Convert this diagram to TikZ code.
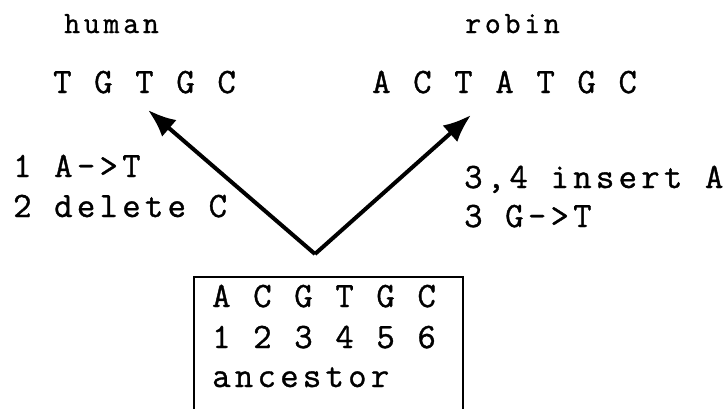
\documentclass[tikz,border=0pt]{standalone}
\usepackage{fontspec}
\setmonofont{Latin Modern Mono}[LetterSpace=12,FakeBold=1]
\usetikzlibrary{arrows.meta,positioning}
\tikzstyle{seq} = [inner sep=0pt, anchor=base west, font=\ttfamily\fontsize{35.7}{40}\selectfont]
\tikzstyle{taxon} = [inner sep=0pt, anchor=base west, font=\ttfamily\fontsize{31}{34}\selectfont]
\tikzstyle{ancbox} = [draw, line width=1.5pt, rectangle, anchor=north west, minimum width=269pt, minimum height=170pt]
\tikzstyle{branch} = [-{Latex[length=28pt,width=22pt]}, line width=4pt]

\begin{document}
\begin{tikzpicture}[x=1pt,y=-1pt]
    \useasboundingbox (0,0) rectangle (723,408);
    % leaves
    \node [taxon] (human) at (64,33) {human};
    \node [taxon] (robin) at (465,33) {robin};
    \node [seq] (hseq) at (53,93) {T G T G C};
    \node [seq] (rseq) at (372,93) {A C T A T G C};
    % changes along each branch
    \node [seq] (h1) at (13,177) {1 A->T};
    \node [seq] (h2) at (13,217) {2 delete C};
    \node [seq] (r1) at (464,188) {3,4 insert A};
    \node [seq] (r2) at (464,227) {3 G->T};
    % root
    \node [ancbox] (anc) at (193,276) {};
    \node [seq] (a1) at (212,307) {A C G T G C};
    \node [seq] (a2) at (212,348) {1 2 3 4 5 6};
    \node [seq] (a3) at (212,387) {ancestor};
    \coordinate (root) at (315,254);
    \coordinate (htip) at (148,110);
    \coordinate (rtip) at (471,115);
    \draw [branch] (root) -- (htip);
    \draw [branch] (root) -- (rtip);
\end{tikzpicture}
\end{document}
